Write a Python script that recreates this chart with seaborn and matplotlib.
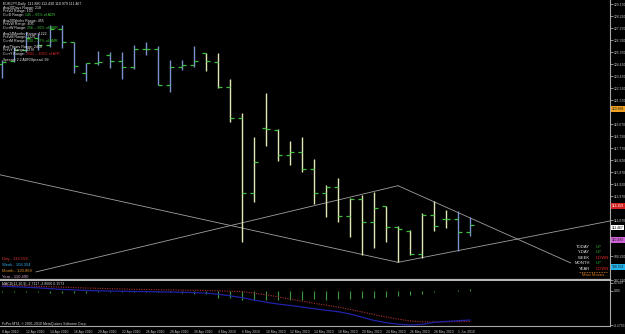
import matplotlib
matplotlib.use("Agg")
import matplotlib.pyplot as plt
import matplotlib.transforms as mtransforms
import numpy as np
import pandas as pd
import seaborn as sns

# ---------------- data ----------------
bar_dates = ["2010-04-08", "2010-04-09", "2010-04-12", "2010-04-13", "2010-04-14", "2010-04-15",
             "2010-04-16", "2010-04-19", "2010-04-20", "2010-04-21", "2010-04-22", "2010-04-23",
             "2010-04-26", "2010-04-27", "2010-04-28", "2010-04-29", "2010-04-30", "2010-05-03",
             "2010-05-04", "2010-05-05", "2010-05-06", "2010-05-07", "2010-05-10", "2010-05-11",
             "2010-05-12", "2010-05-13", "2010-05-14", "2010-05-17", "2010-05-18", "2010-05-19",
             "2010-05-20", "2010-05-21", "2010-05-24", "2010-05-25", "2010-05-26", "2010-05-27",
             "2010-05-28", "2010-05-31", "2010-06-01", "2010-06-02"]
opens = [124.45, 124.67, 125.55, 126.50, 125.90, 127.20, 126.17, 123.69, 124.54, 125.14,
         124.67, 124.22, 125.65, 125.62, 122.77, 124.19, 124.33, 125.28, 124.62, 122.64,
         120.13, 114.24, 119.34, 119.20, 117.22, 117.49, 116.14, 114.24, 114.66, 112.42,
         113.74, 111.89, 113.18, 111.55, 111.20, 109.38, 112.47, 112.18, 112.18, 111.10]
highs = [124.75, 125.80, 126.99, 126.86, 127.52, 127.52, 126.17, 124.54, 125.49, 125.41,
         125.41, 125.94, 126.20, 125.86, 124.75, 124.75, 125.86, 125.33, 125.33, 123.24,
         120.58, 118.68, 122.16, 119.26, 118.33, 118.68, 116.88, 114.85, 115.38, 113.79,
         114.06, 114.32, 113.21, 111.60, 111.25, 112.66, 113.61, 112.87, 112.79, 112.34]
lows = [123.30, 124.62, 125.40, 125.54, 125.80, 125.67, 123.74, 123.09, 124.33, 124.14,
        123.22, 124.01, 125.14, 122.74, 122.24, 123.96, 124.22, 123.88, 122.56, 119.81,
        110.36, 113.48, 117.96, 116.78, 116.43, 115.90, 113.34, 112.34, 111.94, 110.70,
        109.30, 109.83, 110.36, 108.72, 109.30, 109.09, 111.23, 111.42, 109.65, 110.84]
closes = [124.62, 125.54, 126.50, 125.90, 127.20, 126.17, 124.30, 124.54, 124.59, 124.67,
          124.19, 125.65, 125.59, 122.77, 124.19, 124.33, 124.64, 124.64, 122.64, 120.13,
          114.24, 116.64, 119.26, 117.22, 117.49, 116.14, 114.24, 114.66, 112.42, 113.74,
          111.89, 113.00, 111.55, 111.34, 109.38, 112.47, 111.60, 112.18, 111.10, 111.68]
bar_kind = ["blue"] * 17 + ["pale"] * 21 + ["blue"] * 2

macd_main = [0.45, 0.40, 0.35, 0.30, 0.22, 0.15, 0.10, 0.05, 0.02, 0.00,
             -0.02, -0.05, -0.05, -0.08, -0.10, -0.12, -0.15, -0.20, -0.30, -0.45,
             -0.62, -0.85, -1.05, -1.22, -1.35, -1.50, -1.65, -1.80, -1.93, -2.15,
             -2.45, -2.75, -2.96, -3.10, -3.18, -3.12, -2.93, -2.85, -2.78, -2.71]
macd_signal = [0.55, 0.52, 0.48, 0.44, 0.40, 0.36, 0.32, 0.28, 0.25, 0.22,
               0.19, 0.16, 0.14, 0.12, 0.10, 0.08, 0.07, 0.05, 0.02, -0.02,
               -0.05, -0.20, -0.35, -0.55, -0.75, -0.95, -1.15, -1.32, -1.50, -1.72,
               -1.95, -2.20, -2.43, -2.62, -2.80, -2.88, -2.90, -2.88, -2.86, -2.86]
macd_hist = [-0.10, -0.12, -0.12, -0.14, -0.15, -0.15, -0.15, -0.15, -0.14, -0.14,
             -0.13, -0.12, -0.12, -0.12, -0.12, -0.15, -0.25, -0.31, -0.62, -0.68,
             -0.87, -0.87, -0.87, -0.87, -0.87, -0.87, -0.78, -0.87, -0.78, -0.78,
             -0.68, -0.62, -0.56, -0.47, -0.37, -0.25, -0.05, 0.03, 0.08, 0.15]

price_ticks = [129.170, 128.220, 127.270, 126.320, 125.370, 124.420, 123.470, 122.520,
               121.570, 120.620, 119.670, 118.720, 117.770, 116.820, 115.870, 114.920,
               113.970, 113.020, 112.070, 111.120, 110.170, 109.220, 108.270, 107.320]
macd_ticks = [0.7497, 0.0, -3.1793]
macd_tick_labels = ["0.7497", "0.00", "-3.1793"]

level_names = ["Month", "Day", "Current", "Year", "Week"]
level_values = [120.868, 113.159, 111.467, 110.490, 108.354]

trend_x0 = [-0.2, 2.83, 33.0, 33.0]
trend_y0 = [115.66, 107.96, 114.79, 108.72]
trend_x1 = [33.0, 33.0, 47.4, 50.7]
trend_y1 = [108.72, 114.79, 108.67, 112.00]

info_labels = ["EURJPY,Daily  111.880 112.430 110.979 111.467", "Avg20Days Range: 218",
               "PrevD Range: 150", "CurD Range: ", "Avg20Weeks Range: 455", "PrevW Range: 405",
               "CurrW Range: ", "Avg24Months Range: 1222", "PrevM Range: 1325", "CurrM Range: ",
               "Avg7Years Range: 2458", "PrevY Range: 2276", "CurrY Range: ",
               "Spread: 2.2 ADR/Spread: 99"]
info_values = ["", "", "", "145 -- 66% of ADR", "", "", "256 -- 56% of AWR", "", "",
               "330 -- 27% of AMR", "", "", "2591 -- 105% of AYR", ""]
info_value_colors = ["", "", "", "green", "", "", "green", "", "", "green", "", "", "red", ""]

trend_names = ["TODAY", "Y-DAY", "WEEK", "MONTH", "YEAR"]
trend_dirs = ["UP", "UP", "DOWN", "UP", "DOWN"]

# ---------------- styling ----------------
sns.set_theme(style="dark", rc={"axes.facecolor": "black", "figure.facecolor": "black",
                                "savefig.facecolor": "black", "axes.grid": False})
plt.rcParams["font.family"] = ["Liberation Sans", "DejaVu Sans"]

W, H = 625, 334
fig = plt.figure(figsize=(W / 100, H / 100), dpi=100)
fig.patch.set_facecolor("black")


def fx(x):
    return x / W


def fy(y):
    return 1 - y / H


ax = fig.add_axes([0, fy(280), 610 / W, 280 / H])
ax2 = fig.add_axes([0, fy(326), 610 / W, 45 / H])

idx = np.arange(len(bar_dates))
df = pd.DataFrame({"i": idx, "date": pd.to_datetime(bar_dates), "open": opens, "high": highs,
                   "low": lows, "close": closes, "kind": bar_kind,
                   "macd": macd_main, "signal": macd_signal, "hist": macd_hist})

AXC = "#a8a8a8"
TXT = "#c8c8c8"
GREEN = "#3cc03c"
bar_palette = {"blue": "#7a92cc", "pale": "#e2e6b4"}

# ---------------- main price panel ----------------
xl = (-2 / 12, 608 / 12)
ax.set_xlim(*xl)
ax.set_ylim(129.5 - 0.0792 * 280, 129.5)
for sp in ["top", "left"]:
    ax.spines[sp].set_visible(False)
ax.spines["right"].set_color(AXC)
ax.spines["right"].set_linewidth(0.8)
ax.spines["bottom"].set_color("#b8b8b8")
ax.spines["bottom"].set_linewidth(1.6)

# trendlines
for x0, y0, x1, y1 in zip(trend_x0, trend_y0, trend_x1, trend_y1):
    sns.lineplot(x=[x0, x1], y=[y0, y1], ax=ax, color="#a0a0a0", lw=0.6, legend=False)

# OHLC bars
ax.vlines(df["i"], df["low"], df["high"], colors=[bar_palette[k] for k in df["kind"]], lw=1.0)
ax.hlines(df["open"], df["i"] - 0.36, df["i"], colors=GREEN, lw=0.9)
ax.hlines(df["close"], df["i"], df["i"] + 0.36, colors=GREEN, lw=0.9)

# price ticks hidden behind the coloured level boxes are left out, as in MT4
shown_ticks = [p for p in price_ticks if min(abs(p - v) for v in level_values) > 0.42]
ax.set_xticks([])
ax.yaxis.tick_right()
ax.set_yticks(shown_ticks)
ax.set_yticklabels([f"{v:.3f}" for v in shown_ticks])
ax.tick_params(axis="y", labelsize=2.4, colors=TXT, length=1.8, width=0.5, pad=1.2)
ax.set_xlabel("")
ax.set_ylabel("")

# coloured level boxes on the price axis
box_colors = {"Month": ("#f0a020", "#202020"), "Day": ("#d42020", "#ffffff"),
              "Current": ("#ffffff", "#000000"), "Year": ("#d060d8", "#202020"),
              "Week": ("#22b4ec", "#202020")}
trans = mtransforms.blended_transform_factory(ax.transAxes, ax.transData)
for name, val in zip(level_names, level_values):
    fc, tc = box_colors[name]
    ax.text(1.003, val, f"{val:.3f}", transform=trans, fontsize=2.4, color=tc,
            ha="left", va="center", clip_on=False,
            bbox=dict(boxstyle="square,pad=0.25", fc=fc, ec="none"))

# ---------------- MACD panel ----------------
ax2.set_xlim(*xl)
ax2.set_ylim(-(326 - 291) * 0.0935, (291 - 281) * 0.0935)
for sp in ["top", "left"]:
    ax2.spines[sp].set_visible(False)
ax2.spines["right"].set_color(AXC)
ax2.spines["right"].set_linewidth(0.8)
ax2.spines["bottom"].set_color(AXC)
ax2.spines["bottom"].set_linewidth(0.8)

ax2.vlines(df["i"], 0, df["hist"], colors="#3a9e3a", lw=0.8)
sns.lineplot(data=df, x="i", y="signal", ax=ax2, color="#b03030", lw=0.8,
             linestyle=(0, (1, 1.2)), legend=False)
sns.lineplot(data=df, x="i", y="macd", ax=ax2, color="#2222a8", lw=0.9, legend=False)

ax2.yaxis.tick_right()
ax2.set_yticks(macd_ticks)
ax2.set_yticklabels(macd_tick_labels)
ax2.tick_params(axis="y", labelsize=2.4, colors=TXT, length=1.8, width=0.5, pad=1.2)
tick_pos = idx[::2]
ax2.set_xticks(tick_pos)
ax2.set_xticklabels([f"{d.day} {d.strftime('%b %Y')}" for d in df["date"].iloc[::2]])
ax2.tick_params(axis="x", labelsize=2.4, colors=TXT, length=1.8, width=0.5, pad=1.0)
for lbl in ax2.get_xticklabels():
    lbl.set_ha("left")
ax2.set_xlabel("")
ax2.set_ylabel("")

# ---------------- texts ----------------
row_y = [4.3, 7.5, 11.3, 15.3, 20.7, 24.3, 28.0, 33.7, 37.3, 41.0, 46.7, 50.3, 54.0, 60.0]
val_col = {"green": "#3cc83c", "red": "#e02828"}
for y, lab, val, vc in zip(row_y, info_labels, info_values, info_value_colors):
    t = fig.text(fx(3), fy(y), lab, fontsize=2.6, color="#e8e8e8", ha="left", va="center")
    if val:
        ax.annotate(val, xy=(1, 0.5), xycoords=t, fontsize=2.6, color=val_col[vc],
                    ha="left", va="center", annotation_clip=False)

fig.text(fx(2), fy(283.5), "MACD(12,26,9) -2.7117 -2.8600 0.1573", fontsize=2.5,
         color="#d8d8d8", ha="left", va="center")
fig.text(fx(2), fy(323.5), "FxPro MT4, \u00a9 2001-2010 MetaQuotes Software Corp.",
         fontsize=2.5, color="#d8d8d8", ha="left", va="center")

left_cols = {"Day": "#e03030", "Week": "#30a8e8", "Month": "#e09030", "Year": "#d8a8d8"}
left_rows = [("Day", 113.159, 259), ("Week", 108.354, 265), ("Month", 120.868, 271),
             ("Year", 110.490, 276.5)]
for name, val, y in left_rows:
    fig.text(fx(2), fy(y), f"{name} - {val:.3f}", fontsize=3.0, color=left_cols[name],
             ha="left", va="center")

tr_y = [246.7, 252.2, 257.7, 263.2, 268.7]
for y, nm, dr in zip(tr_y, trend_names, trend_dirs):
    fig.text(fx(590), fy(y), nm, fontsize=3.0, color="#e8e8e8", ha="right", va="center")
    fig.text(fx(596), fy(y), dr, fontsize=3.0, color=("#30c030" if dr == "UP" else "#e02828"),
             ha="left", va="center")
fig.text(fx(582), fy(274.5), "Main Moves...", fontsize=3.0, color="#e08020", ha="left",
         va="center")
fig.lines.append(plt.Line2D([fx(579), fx(607)], [fy(271.8), fy(271.8)], transform=fig.transFigure,
                            color="#e08020", lw=0.5, linestyle=(0, (2, 1.5))))

fig.savefig("out.png", dpi=100, facecolor="black")
